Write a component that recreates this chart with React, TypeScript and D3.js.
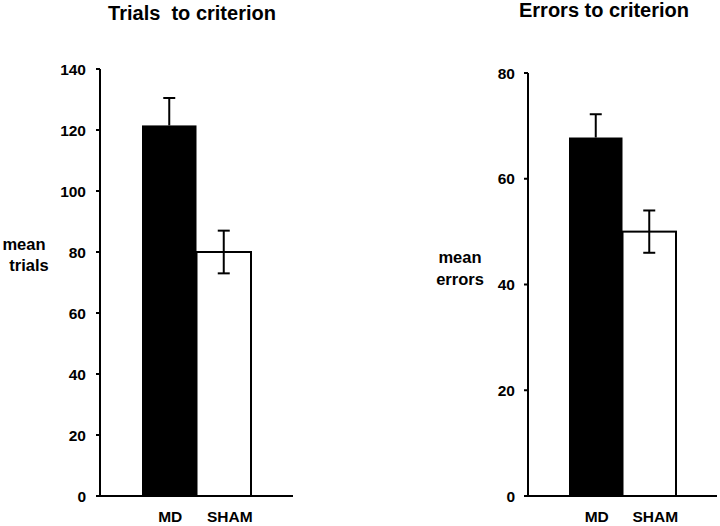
import React from "react";
import * as d3 from "d3";

const categories = ["MD", "SHAM"];
const trialsMeans = [121.5, 80];
const trialsErrUp = [9, 7];
const trialsErrDown = [0, 7];
const trialsTicks = [0, 20, 40, 60, 80, 100, 120, 140];

const errorsMeans = [67.8, 50];
const errorsErrUp = [4.4, 4];
const errorsErrDown = [0, 4];
const errorsTicks = [0, 20, 40, 60, 80];

const labelOffsets = [1, 6];
const FONT = "'Liberation Sans', Arial, Helvetica, sans-serif";

type PanelProps = {
  title: string;
  titleX: number;
  titleY: number;
  yLabel: string[];
  yLabelX: number[];
  yLabelY: number[];
  means: number[];
  errUp: number[];
  errDown: number[];
  ticks: number[];
  yMax: number;
  yTop: number;
  axisX: number;
  tickGap: number;
  barRange: [number, number];
  xAxisEnd: number;
};

function Panel(p: PanelProps) {
  const y = d3.scaleLinear().domain([0, p.yMax]).range([496, p.yTop]);
  const x = d3.scaleBand<string>().domain(categories).range(p.barRange).paddingInner(0).paddingOuter(0);
  const bw = x.bandwidth();
  const capW = 12;
  return (
    <g>
      <text x={p.titleX} y={p.titleY} textAnchor="middle" fontSize={20} fontWeight="bold" fontFamily={FONT} style={{ whiteSpace: "pre" }}>
        {p.title}
      </text>
      {p.yLabel.map((t, i) => (
        <text key={t} x={p.yLabelX[i]} y={p.yLabelY[i]} textAnchor="middle" fontSize={16.5} fontWeight="bold" fontFamily={FONT}>
          {t}
        </text>
      ))}
      {categories.map((c, i) => (
        <rect
          key={c}
          x={x(c)!}
          y={y(p.means[i])}
          width={bw}
          height={y(0) - y(p.means[i])}
          fill={i === 0 ? "#000" : "#fff"}
          stroke="#000"
          strokeWidth={i === 0 ? 0 : 2}
        />
      ))}
      {categories.map((c, i) => {
        const cx = x(c)! + bw / 2;
        const top = y(p.means[i] + p.errUp[i]);
        const bot = y(p.means[i] - p.errDown[i]);
        return (
          <g key={c + "e"} stroke={"#000"} strokeWidth={2}>
            <line x1={cx} x2={cx} y1={top} y2={bot} />
            <line x1={cx - capW / 2} x2={cx + capW / 2} y1={top} y2={top} />
            {p.errDown[i] > 0 && <line x1={cx - capW / 2} x2={cx + capW / 2} y1={bot} y2={bot} />}
          </g>
        );
      })}
      <line x1={p.axisX} x2={p.axisX} y1={y(p.yMax)} y2={y(0)} stroke="#000" strokeWidth={2} />
      {p.ticks.map((t) => (
        <g key={t}>
          <line x1={p.axisX - 4} x2={p.axisX} y1={y(t)} y2={y(t)} stroke="#000" strokeWidth={2} />
          <text x={p.axisX - p.tickGap} y={y(t) + 5.5} textAnchor="end" fontSize={15.5} fontWeight="bold" fontFamily={FONT}>
            {t}
          </text>
        </g>
      ))}
      <line x1={p.axisX - 3} x2={p.xAxisEnd} y1={y(0)} y2={y(0)} stroke="#000" strokeWidth={2} />
      {categories.map((c, i) => (
        <text key={c + "l"} x={x(c)! + bw / 2 + labelOffsets[i]} y={522} textAnchor="middle" fontSize={15.5} fontWeight="bold" fontFamily={FONT}>
          {c}
        </text>
      ))}
    </g>
  );
}

export default function App() {
  return (
    <svg width={720} height={526} style={{ position: "absolute", left: 0, top: 0, background: "#fff" }}>
      <rect x={0} y={0} width={720} height={526} fill="#fff" />
      <Panel
        title={"Trials  to criterion"}
        titleX={192}
        titleY={20}
        yLabel={["mean", "trials"]}
        yLabelX={[24, 29]}
        yLabelY={[250, 271]}
        means={trialsMeans}
        errUp={trialsErrUp}
        errDown={trialsErrDown}
        ticks={trialsTicks}
        yMax={140}
        yTop={69}
        axisX={100}
        tickGap={14}
        barRange={[142, 251]}
        xAxisEnd={293}
      />
      <Panel
        title={"Errors to criterion"}
        titleX={604}
        titleY={17}
        yLabel={["mean", "errors"]}
        yLabelX={[460, 460]}
        yLabelY={[263, 285]}
        means={errorsMeans}
        errUp={errorsErrUp}
        errDown={errorsErrDown}
        ticks={errorsTicks}
        yMax={80}
        yTop={73}
        axisX={528}
        tickGap={13}
        barRange={[569, 676]}
        xAxisEnd={717}
      />
    </svg>
  );
}
